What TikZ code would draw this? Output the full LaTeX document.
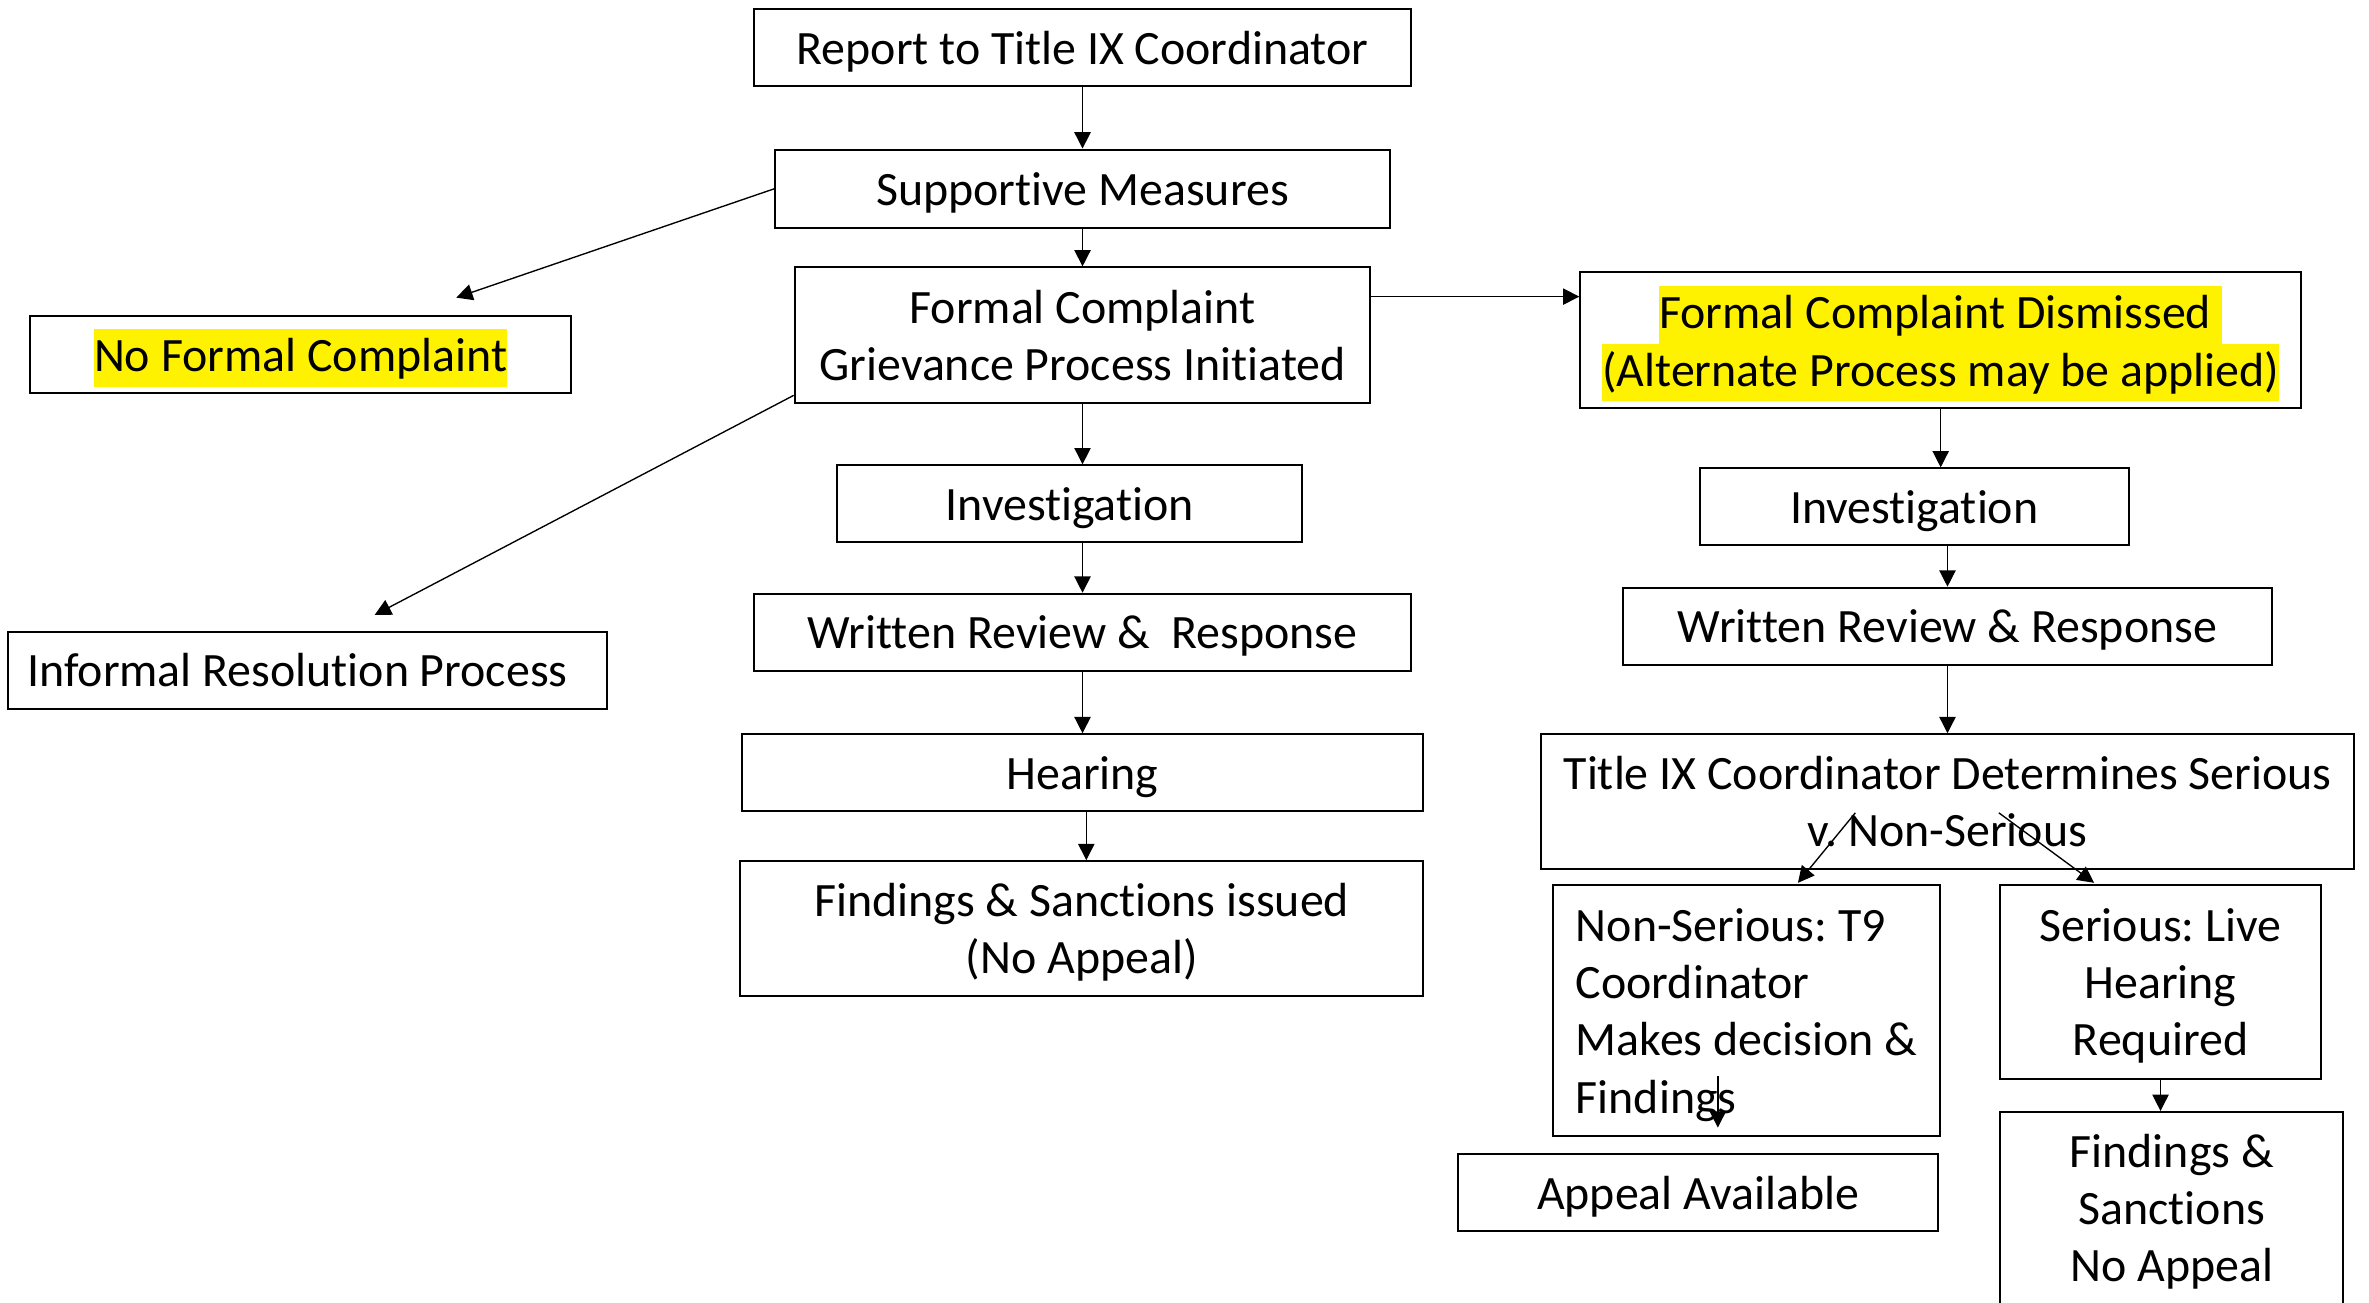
\documentclass[tikz,border=0pt]{standalone}
\usepackage{fontspec}
\setmainfont{Carlito}[Ligatures=NoCommon]
\usetikzlibrary{arrows.meta,calc}
% yellow text highlight, one line high
\newcommand\hlyel[1]{{\setlength{\fboxsep}{0pt}\colorbox{yellow}{\vrule height 14pt depth 5pt width 0pt #1}}}

\begin{document}
\frenchspacing
\begin{tikzpicture}[x=0.5pt,y=-0.5pt,
  txt/.style={align=center, inner sep=0pt, text depth=0pt, font=\fontsize{15.85}{19}\selectfont},
  box/.style={txt, draw=black, line width=0.68pt, rectangle},
  hlbox/.style={box, text depth=2.5pt},
  arr/.style={draw=black, line width=0.45pt, -{Triangle[length=5.4pt,width=5.4pt]}}]
\useasboundingbox (0,0) rectangle (1568,862);

% main column
\node[box, minimum width=217.5pt, minimum height=25.5pt] (report) at (716.5,31.5) {Report to Title IX Coordinator};
\node[box, minimum width=203.5pt, minimum height=26pt] (support) at (716.5,125) {Supportive Measures};
\node[box, minimum width=190.5pt, minimum height=45pt] (formal) at (716.5,222) {Formal Complaint\\Grievance Process Initiated};
\node[box, minimum width=154pt, minimum height=25.5pt] (inv1) at (708,333.5) {Investigation};
\node[box, minimum width=217.5pt, minimum height=25.5pt] (wr1) at (716.5,418.5) {Written Review \&~ Response};
\node[box, minimum width=225.5pt, minimum height=25.5pt] (hearing) at (716.5,511.5) {Hearing};
\node[box, minimum width=226pt, minimum height=44.5pt] (find1) at (716,614.5) {Findings \& Sanctions issued\\(No Appeal)};

% left branches
\node[hlbox, minimum width=179pt, minimum height=25.5pt] (nofc) at (199,234.5) {\hlyel{No Formal Complaint}};
\node[box, minimum width=198.5pt, minimum height=25.5pt] (informal) at (203.5,443.5) {\makebox[185.5pt][l]{Informal Resolution Process}};

% right column
\node[hlbox, minimum width=238.5pt, minimum height=45pt] (dismissed) at (1284.5,225) {\hlyel{Formal Complaint Dismissed\ }\\\hlyel{(Alternate Process may be applied)}};
\node[box, minimum width=142pt, minimum height=25.5pt] (inv2) at (1267,335.5) {Investigation};
\node[box, minimum width=215pt, minimum height=25.5pt] (wr2) at (1289,414.5) {Written Review \& Response};
\node[box, minimum width=269pt, minimum height=44.5pt] (title) at (1289,530.5) {Title IX Coordinator Determines Serious\\v. Non-Serious};
\node[box, minimum width=128pt, minimum height=83pt, align=left] (nonser) at (1156,669) {Non-Serious: T9\\Coordinator\\Makes decision \&\\Findings};
\node[box, minimum width=106pt, minimum height=64pt] (serious) at (1430,650) {Serious: Live\\Hearing\\Required};
\node[box, minimum width=159pt, minimum height=25.5pt] (appeal) at (1124,789.5) {Appeal Available};
\node[box, minimum width=113.5pt, minimum height=74pt] (find2) at (1437.5,810) {};
\node[txt] (find2txt) at (1437.5,799.5) {Findings \&\\Sanctions\\No Appeal};

% free arrow ends
\coordinate (nofcTip) at (302,197);
\coordinate (informalTip) at (248,407);
\coordinate (fcOut) at ($(formal.north east)+(0,20)$);

% connectors
\draw[arr] (report.south) -- (support.north);
\draw[arr] (support.south) -- (formal.north);
\draw[arr] (support.west) -- (nofcTip);
\draw[arr] ($(formal.south west)+(0,-6)$) -- (informalTip);
\draw[arr] (fcOut) -- (fcOut -| dismissed.west);
\draw[arr] (formal.south) -- (formal.south |- inv1.north);
\draw[arr] (wr1.north |- inv1.south) -- (wr1.north);
\draw[arr] (wr1.south) -- (hearing.north);
\draw[arr] ($(hearing.south)+(2.5,0)$) -- ($(find1.north)+(3,0)$);
\draw[arr] (dismissed.south) -- (dismissed.south |- inv2.north);
\draw[arr] (wr2.north |- inv2.south) -- (wr2.north);
\draw[arr] (wr2.south) -- (title.north);
\draw[arr] ($(title.center)+(-61,7.5)$) -- ($(nonser.north)+(34,-1)$);
\draw[arr] ($(title.center)+(34,7.5)$) -- ($(serious.north)+(-44,-1)$);
\draw[arr] ($(appeal.north)+(13,-51)$) -- ($(appeal.north)+(13,-17)$);
\draw[arr] (serious.south) -- (serious.south |- find2.north);
\end{tikzpicture}
\end{document}
